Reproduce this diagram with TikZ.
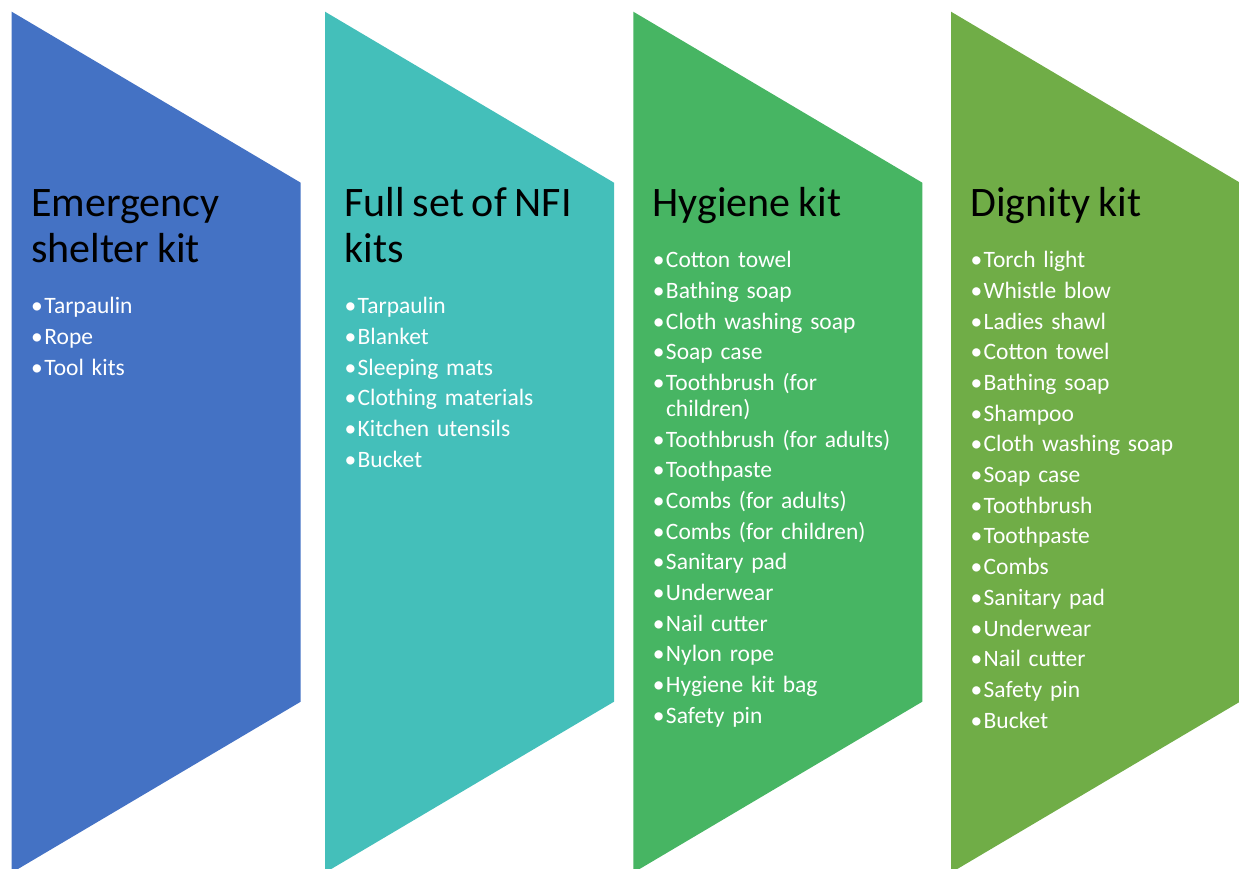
\documentclass[tikz,border=0pt]{standalone}
\usepackage{fontspec}
\setmainfont{Carlito}
\definecolor{kitblue}{HTML}{4472C4}
\definecolor{kitteal}{HTML}{44BFBA}
\definecolor{kitgreen}{HTML}{47B563}
\definecolor{kitolive}{HTML}{70AD47}
\newlength\bulletw
\newcommand\kitbullet{\textbullet\hspace{1.5pt}}
% one bulleted entry; wrapped lines hang under the text, not the bullet
\newcommand\kitem[1]{\par\vspace{4.9pt}\hangindent=\bulletw\hangafter=1\noindent\kitbullet#1}
\newcommand\kittitle[1]{{\fontsize{42}{46}\selectfont\color{black}#1\par}\vspace{20pt}}
\begin{document}
\begin{tikzpicture}[x=1pt,y=-1pt,
  kitcol/.style={anchor=base west,inner sep=0pt,text width=300pt,align=left,
    text=white,font=\fontsize{23.5}{25.8}\selectfont,
    execute at begin node={\settowidth{\bulletw}{\kitbullet}}}]
\useasboundingbox (0,0) rectangle (1239,869);
\begin{scope}
\clip (0,0) rectangle (1239,869);
% banner panels: straight left side, pointed right side
\foreach \l/\c in {11.7/kitblue,325/kitteal,633.3/kitgreen,951/kitolive}{
  \fill[\c] (\l,11.7) -- (\l+289,182.7) -- (\l+289,701.7) -- (\l,872.7) -- cycle;
}
\end{scope}
\node[kitcol] (shelter) at (31,217) {\kittitle{Emergency\\shelter kit}%
  \kitem{Tarpaulin}\kitem{Rope}\kitem{Tool kits}};
\node[kitcol] (nfi) at (344.3,217) {\kittitle{Full set of NFI\\kits}%
  \kitem{Tarpaulin}\kitem{Blanket}\kitem{Sleeping mats}\kitem{Clothing materials}%
  \kitem{Kitchen utensils}\kitem{Bucket}};
\node[kitcol] (hygiene) at (652.6,217) {\kittitle{Hygiene kit}%
  \kitem{Cotton towel}\kitem{Bathing soap}\kitem{Cloth washing soap}\kitem{Soap case}%
  \kitem{Toothbrush (for\newline children)}\kitem{Toothbrush (for adults)}\kitem{Toothpaste}%
  \kitem{Combs (for adults)}\kitem{Combs (for children)}\kitem{Sanitary pad}%
  \kitem{Underwear}\kitem{Nail cutter}\kitem{Nylon rope}\kitem{Hygiene kit bag}%
  \kitem{Safety pin}};
\node[kitcol] (dignity) at (970.3,217) {\kittitle{Dignity kit}%
  \kitem{Torch light}\kitem{Whistle blow}\kitem{Ladies shawl}\kitem{Cotton towel}%
  \kitem{Bathing soap}\kitem{Shampoo}\kitem{Cloth washing soap}\kitem{Soap case}%
  \kitem{Toothbrush}\kitem{Toothpaste}\kitem{Combs}\kitem{Sanitary pad}%
  \kitem{Underwear}\kitem{Nail cutter}\kitem{Safety pin}\kitem{Bucket}};
\end{tikzpicture}
\end{document}
